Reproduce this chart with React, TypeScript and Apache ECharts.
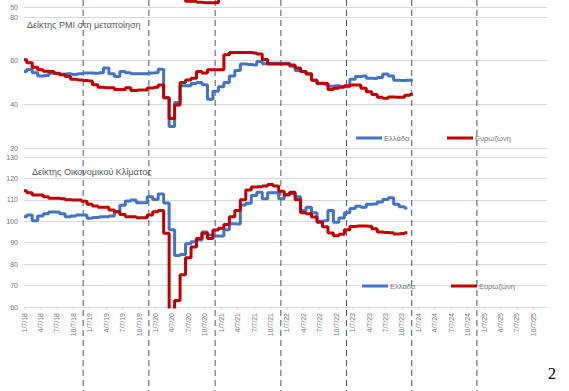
import React, { useEffect, useRef } from 'react';
import * as echarts from 'echarts';

// Quarterly tick labels (month index 0 = Jan 2018, one label every 3 months)
const xTickLabels = [
  '1/7/18', '4/7/18', '7/7/18', '10/7/18',
  '1/7/19', '4/7/19', '7/7/19', '10/7/19',
  '1/7/20', '4/7/20', '7/7/20', '10/7/20',
  '1/7/21', '4/7/21', '7/7/21', '10/7/21',
  '1/7/22', '4/7/22', '7/7/22', '10/7/22',
  '1/7/23', '4/7/23', '7/7/23', '10/7/23',
  '1/7/24', '4/7/24', '7/7/24', '10/7/24',
  '1/7/25', '4/7/25', '7/7/25', '10/7/25',
];

// Positions (in months from Jan 2018) of the dashed year separators
const yearMarkers = [10.8, 22.8, 34.9, 46.9, 58.9, 70.8, 82.7];

// PMI manufacturing, monthly from Jan 2018
const pmiGreece = [
  55.0, 56.0, 54.5, 53.0, 53.2, 54.2, 54.0, 53.8, 54.0, 53.7, 54.0, 54.3,
  54.3, 54.2, 54.5, 56.6, 54.0, 52.7, 55.0, 54.5, 54.0, 54.0, 54.0, 54.3,
  54.5, 56.1, 43.0, 29.8, 40.8, 48.5, 48.5, 49.5, 50.0, 49.0, 42.3, 46.0,
  48.0, 50.0, 53.0, 55.5, 58.5, 58.3, 58.0, 59.6, 58.6, 58.8, 58.8, 58.8,
  58.8, 57.5, 55.5, 55.0, 54.0, 51.0, 49.4, 49.2, 48.3, 48.5, 48.2, 48.0,
  51.5, 52.7, 53.0, 52.0, 51.8, 52.3, 53.9, 53.0, 51.0, 50.9, 51.0, 51.2,
];
const pmiEurozone = [
  60.4, 59.0, 57.0, 55.8, 55.2, 55.0, 54.2, 53.5, 52.7, 51.5, 51.2, 50.9,
  50.7, 49.0, 47.8, 47.6, 47.6, 46.8, 46.8, 47.6, 46.3, 46.6, 46.6, 47.5,
  47.8, 48.9, 43.0, 33.5, 39.7, 50.0, 51.2, 52.0, 55.0, 54.3, 55.8, 55.8,
  55.8, 62.7, 63.7, 63.7, 63.7, 63.7, 63.5, 63.0, 60.5, 58.5, 58.5, 58.5,
  58.5, 58.0, 56.6, 55.0, 53.9, 51.0, 49.7, 49.5, 46.8, 47.4, 47.8, 48.5,
  48.9, 48.9, 47.4, 45.8, 44.5, 43.3, 42.8, 43.4, 43.3, 43.3, 44.2, 44.6,
];

// Economic sentiment indicator, monthly from Jan 2018
const esiGreece = [
  102.1, 102.9, 100.3, 102.5, 103.5, 104.3, 104.3, 103.5, 102.1, 102.5, 102.9, 102.9,
  101.4, 101.8, 102.1, 102.1, 102.5, 104.5, 107.5, 109.5, 109.9, 108.7, 108.7, 111.5,
  110.2, 112.7, 108.5, 96.0, 84.0, 84.5, 89.5, 90.5, 91.3, 95.0, 93.6, 93.1,
  93.1, 96.0, 98.8, 98.7, 107.6, 108.4, 112.0, 113.5, 110.5, 113.3, 113.3, 110.5,
  112.5, 113.0, 111.5, 105.0, 106.5, 104.0, 100.0, 100.3, 105.0, 99.6, 101.5, 104.0,
  106.0, 107.0, 106.5, 108.0, 108.1, 109.0, 110.2, 111.0, 108.0, 106.8, 106.2,
];
const esiEurozone = [
  114.3, 113.3, 112.3, 112.3, 111.5, 110.7, 110.7, 110.5, 110.0, 109.9, 109.9, 109.3,
  108.0, 107.1, 106.5, 106.5, 105.3, 104.5, 103.2, 102.1, 102.1, 101.7, 101.7, 102.9,
  104.5, 105.0, 94.4, 55.0, 63.0, 75.0, 83.0, 88.0, 92.0, 94.4, 92.0, 95.9,
  96.7, 98.5, 102.1, 105.0, 110.0, 114.6, 116.0, 116.1, 116.5, 117.2, 116.5, 114.0,
  112.3, 113.5, 110.0, 104.0, 103.5, 102.0, 99.5, 97.5, 94.5, 93.3, 94.0, 96.0,
  97.6, 97.8, 97.8, 97.7, 96.5, 95.0, 94.8, 94.6, 94.1, 94.3, 94.7,
];

// Visible remnant of the panel above (Eurozone), starting at month 29
const stripStartMonth = 29;
const stripEurozone = [72, 52.6, 52.6, 52.2, 52.0, 52.0, 52.0, 72];

const BLUE = '#4472C4';
const RED = '#C00000';
const GRID_COLOR = '#d9d9d9';
const LABEL_COLOR = '#767676';
const FONT = '"Liberation Sans", "DejaVu Sans", sans-serif';

const toPairs = (arr: number[], start = 0) => arr.map((v, i) => [start + i, v]);

export default function App() {
  const ref = useRef<HTMLDivElement>(null);

  useEffect(() => {
    if (!ref.current) return;
    const chart = echarts.init(ref.current, undefined, { renderer: 'svg' });

    const gridLeft = 24;
    const gridRight = 22;

    const xAxisBase = (i: number) => ({
      type: 'value' as const,
      gridIndex: i,
      min: 0,
      max: 95.5,
      interval: 3,
      show: i === 2,
      axisLine: { show: true, lineStyle: { color: GRID_COLOR } },
      axisTick: { show: true, length: 3, lineStyle: { color: GRID_COLOR } },
      axisLabel: {
        rotate: 90,
        fontSize: 7,
        color: LABEL_COLOR,
        margin: 6,
        showMaxLabel: false,
        formatter: (v: number) => {
          if (v % 3 !== 0) return '';
          const idx = v / 3;
          return xTickLabels[idx] ?? '';
        },
      },
      splitLine: { show: false },
    });

    const yAxisBase = (i: number, min: number, max: number, interval: number) => ({
      type: 'value' as const,
      gridIndex: i,
      min,
      max,
      interval,
      axisLine: { show: false },
      axisTick: { show: false },
      axisLabel: { fontSize: 7, color: LABEL_COLOR, margin: 6, showMaxLabel: i !== 0 },
      splitLine: { show: true, lineStyle: { color: GRID_COLOR, width: 1 } },
    });

    const lineSeries = (name: string, data: number[][], axis: number, color: string, width = 3) => ({
      type: 'line' as const,
      name,
      xAxisIndex: axis,
      yAxisIndex: axis,
      data,
      step: 'middle' as const,
      showSymbol: false,
      symbol: 'none',
      clip: true,
      lineStyle: { color, width },
      itemStyle: { color },
      z: 3,
    });

    const legendItem = (name: string, left: number, top: number) => ({
      data: [name],
      left,
      top,
      icon: 'rect',
      itemWidth: 26,
      itemHeight: 3,
      selectedMode: false,
      padding: 0,
      textStyle: { fontSize: 7.5, color: LABEL_COLOR, fontFamily: FONT, padding: [0, 0, 0, -3] },
    });

    chart.setOption({
      animation: false,
      textStyle: { fontFamily: FONT },
      title: [
        {
          text: 'Δείκτης PMI στη μεταποίηση',
          left: 27,
          top: 20,
          padding: 0,
          textStyle: { fontSize: 9, fontWeight: 'normal', color: '#595959', fontFamily: FONT },
        },
        {
          text: 'Δείκτης Οικονομικού Κλίματος',
          left: 32,
          top: 167,
          padding: 0,
          textStyle: { fontSize: 9, fontWeight: 'normal', color: '#595959', fontFamily: FONT },
        },
      ],
      grid: [
        { left: gridLeft, right: gridRight, top: 0, height: 7 },
        { left: gridLeft, right: gridRight, top: 17, height: 131 },
        { left: gridLeft, right: gridRight, top: 157, height: 150 },
      ],
      xAxis: [xAxisBase(0), xAxisBase(1), xAxisBase(2)],
      yAxis: [
        { ...yAxisBase(0, 50, 53.2, 20), splitLine: { show: false } },
        yAxisBase(1, 20, 80, 20),
        yAxisBase(2, 60, 130, 10),
      ],
      legend: [
        legendItem('Ελλάδα', 356, 134),
        legendItem('Ευρωζώνη', 447, 134),
        legendItem('Ελλάδα', 362, 282),
        legendItem('Ευρωζώνη', 451, 282),
      ],
      series: [
        {
          ...lineSeries('Ευρωζώνη (προηγ.)', toPairs(stripEurozone, stripStartMonth), 0, RED),
          markLine: {
            silent: true,
            symbol: 'none',
            label: { show: false },
            lineStyle: { color: GRID_COLOR, width: 1, type: 'solid' },
            data: [{ yAxis: 50 }],
          },
        },
        lineSeries('Ελλάδα', toPairs(pmiGreece), 1, BLUE),
        lineSeries('Ευρωζώνη', toPairs(pmiEurozone), 1, RED),
        lineSeries('Ελλάδα', toPairs(esiGreece), 2, BLUE),
        lineSeries('Ευρωζώνη', toPairs(esiEurozone), 2, RED),
      ],
    });

    const xs = yearMarkers.map((m) => chart.convertToPixel({ xAxisIndex: 2 }, m) as number);
    chart.setOption({
      graphic: [
        ...xs.map((x) => ({
          type: 'line',
          shape: { x1: x, y1: 0, x2: x, y2: 391 },
          style: { stroke: '#44546a', lineWidth: 1, lineDash: [6, 4] },
          silent: true,
          z: 1,
        })),
        {
          type: 'text',
          x: 548,
          y: 365,
          style: {
            text: '2',
            fontSize: 16,
            fontFamily: '"Liberation Serif", "DejaVu Serif", serif',
            fill: '#000',
          },
          z: 5,
        },
      ],
    });

    return () => chart.dispose();
  }, []);

  return (
    <div
      ref={ref}
      style={{ position: 'fixed', left: 0, top: 0, width: 569, height: 391, background: '#fff' }}
    />
  );
}
